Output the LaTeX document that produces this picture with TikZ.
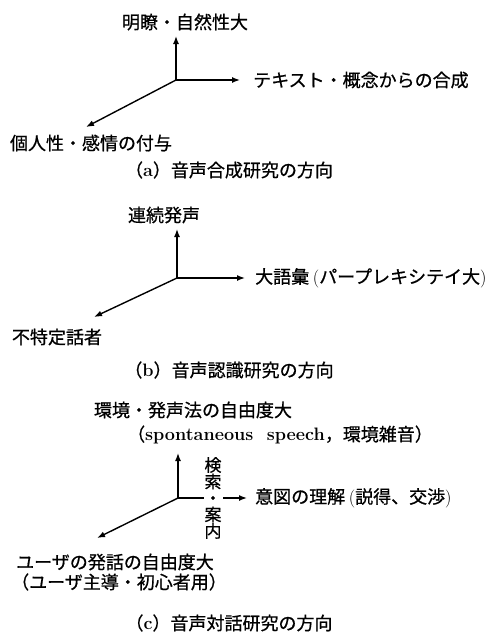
\documentclass[tikz,border=0pt]{standalone}
\usepackage{fontspec}
\newfontfamily\jp[FakeBold=0.7]{Noto Sans CJK JP}
\usetikzlibrary{arrows.meta}
\newcommand{\lb}{\hspace{0.2em}{\rmfamily(}}
\newcommand{\rb}{{\rmfamily)}}
\begin{document}
\begin{tikzpicture}[x=1pt,y=-1pt,
  lbl/.style={inner sep=0pt,font=\jp\fontsize{18}{20}\selectfont},
  arr/.style={line width=1.4pt,-{Latex[length=8pt,width=6pt]}},
  vtext/.style={inner sep=1pt,fill=white,align=center,font=\jp\fontsize{17}{16.5}\selectfont}]
\useasboundingbox (0,0) rectangle (500,635);
% ---------- (a)
\coordinate (oa) at (176,80);
\coordinate (ta1) at (176,36);
\coordinate (ta2) at (240,80);
\coordinate (ta3) at (86,127);
\node[lbl] (ua) at (185,22) {明瞭・自然性大};
\node[lbl,anchor=west] (ra) at (253,80) {テキスト・概念からの合成};
\node[lbl] (la) at (91,143) {個人性・感情の付与};
\node[lbl] (ca) at (229,170) {（{\rmfamily\bfseries a}）音声合成研究の方向};
\draw[arr] (oa) -- (ta1);
\draw[arr] (oa) -- (ta2);
\draw[arr] (oa) -- (ta3);
% ---------- (b)
\coordinate (ob) at (177,278);
\coordinate (tb1) at (177,229);
\coordinate (tb2) at (245,278);
\coordinate (tb3) at (94,317);
\node[lbl] (ub) at (164,215) {連続発声};
\node[lbl,anchor=west] (rb) at (255,278) {大語彙\lb パープレキシテイ大\rb};
\node[lbl] (lb) at (57,337) {不特定話者};
\node[lbl] (cb) at (229,370) {（{\rmfamily\bfseries b}）音声認識研究の方向};
\draw[arr] (ob) -- (tb1);
\draw[arr] (ob) -- (tb2);
\draw[arr] (ob) -- (tb3);
% ---------- (c)
\coordinate (oc) at (178,498);
\coordinate (tc1) at (178,453);
\coordinate (tc2) at (247,498);
\coordinate (tc3) at (97,538);
\node[lbl] (uc1) at (193,410) {環境・発声法の自由度大};
\node[lbl] (uc2) at (280,435) {（{\rmfamily\bfseries spontaneous\ \ speech}，環境雑音）};
\node[lbl,anchor=west] (rc) at (255,498) {意図の理解\lb 説得、交渉\rb};
\node[lbl] (lc1) at (115,562) {ユーザの発話の自由度大};
\node[lbl] (lc2) at (119,582) {（ユーザ主導・初心者用）};
\node[lbl] (cc) at (229,623) {（{\rmfamily\bfseries c}）音声対話研究の方向};
\draw[arr] (oc) -- (tc1);
\draw[arr] (oc) -- (tc2);
\draw[arr] (oc) -- (tc3);
\node[vtext] (vc) at (213,498) {検\\索\\・\\案\\内};
\end{tikzpicture}
\end{document}
